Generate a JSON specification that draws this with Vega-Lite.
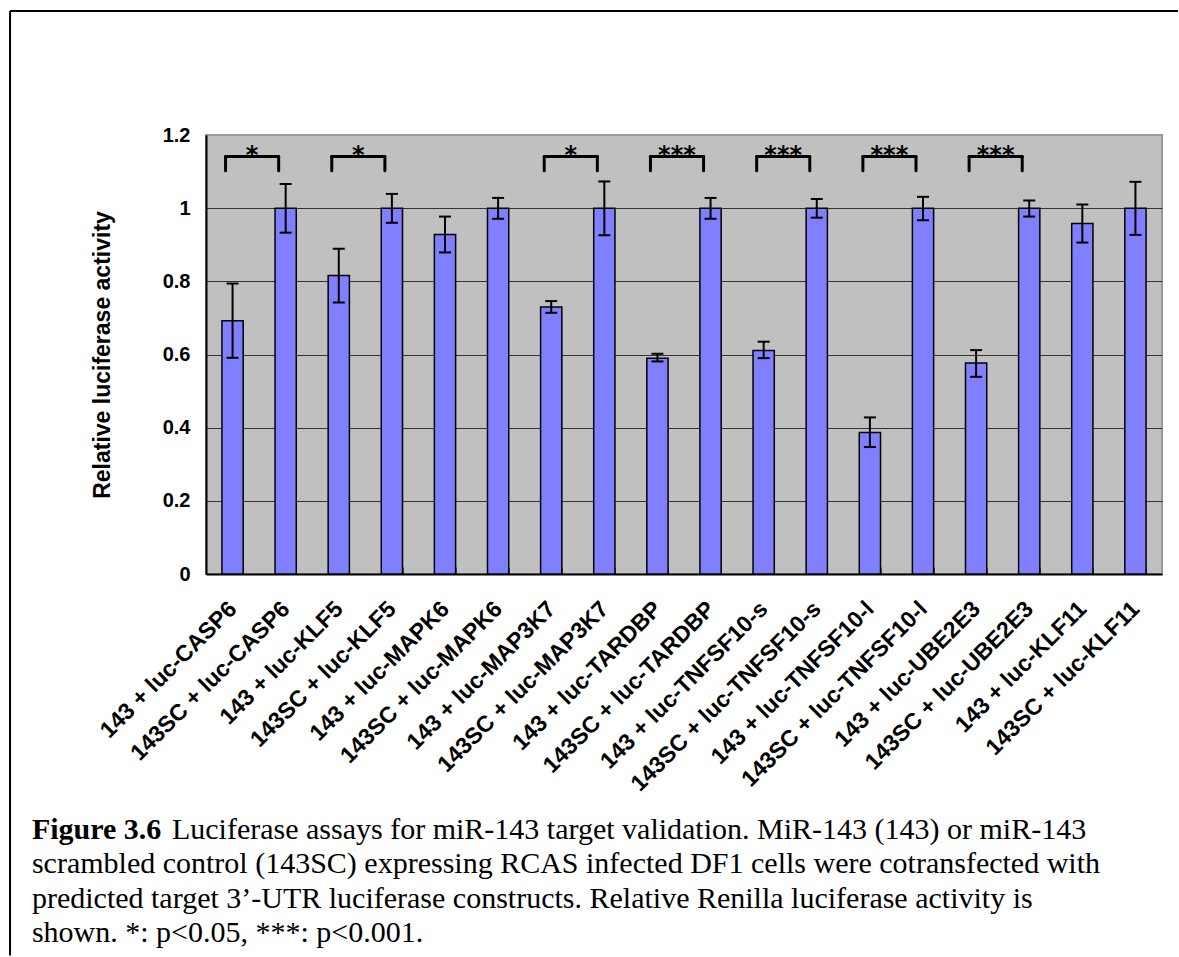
{
  "$schema": "https://vega.github.io/schema/vega-lite/v6.json",
  "width": 956,
  "height": 439,
  "autosize": {"type": "pad"},
  "padding": {"left": 9, "top": 9, "right": 0, "bottom": 0},
  "background": "white",
  "config": {
    "view": {"fill": "#C0C0C0", "stroke": "#999999", "strokeWidth": 2}
  },
  "datasets": {
    "bars": [
      {"cat": "143 + luc-CASP6", "value": 0.692, "lo": 0.591, "hi": 0.794},
      {"cat": "143SC + luc-CASP6", "value": 1.0, "lo": 0.933, "hi": 1.066},
      {"cat": "143 + luc-KLF5", "value": 0.816, "lo": 0.742, "hi": 0.889},
      {"cat": "143SC + luc-KLF5", "value": 1.0, "lo": 0.96, "hi": 1.039},
      {"cat": "143 + luc-MAPK6", "value": 0.928, "lo": 0.879, "hi": 0.977},
      {"cat": "143SC + luc-MAPK6", "value": 1.0, "lo": 0.971, "hi": 1.028},
      {"cat": "143 + luc-MAP3K7", "value": 0.73, "lo": 0.714, "hi": 0.746},
      {"cat": "143SC + luc-MAP3K7", "value": 1.0, "lo": 0.926, "hi": 1.073},
      {"cat": "143 + luc-TARDBP", "value": 0.59, "lo": 0.581, "hi": 0.602},
      {"cat": "143SC + luc-TARDBP", "value": 1.0, "lo": 0.971, "hi": 1.028},
      {"cat": "143 + luc-TNFSF10-s", "value": 0.611, "lo": 0.59, "hi": 0.635},
      {"cat": "143SC + luc-TNFSF10-s", "value": 1.0, "lo": 0.974, "hi": 1.025},
      {"cat": "143 + luc-TNFSF10-l", "value": 0.387, "lo": 0.347, "hi": 0.428},
      {"cat": "143SC + luc-TNFSF10-l", "value": 1.0, "lo": 0.967, "hi": 1.031},
      {"cat": "143 + luc-UBE2E3", "value": 0.577, "lo": 0.539, "hi": 0.612},
      {"cat": "143SC + luc-UBE2E3", "value": 1.0, "lo": 0.977, "hi": 1.021},
      {"cat": "143 + luc-KLF11", "value": 0.958, "lo": 0.906, "hi": 1.01},
      {"cat": "143SC + luc-KLF11", "value": 1.0, "lo": 0.927, "hi": 1.072}
    ],
    "sig": [
      {"a": "143 + luc-CASP6", "b": "143SC + luc-CASP6", "sig": "*"},
      {"a": "143 + luc-KLF5", "b": "143SC + luc-KLF5", "sig": "*"},
      {"a": "143 + luc-MAP3K7", "b": "143SC + luc-MAP3K7", "sig": "*"},
      {"a": "143 + luc-TARDBP", "b": "143SC + luc-TARDBP", "sig": "***"},
      {"a": "143 + luc-TNFSF10-s", "b": "143SC + luc-TNFSF10-s", "sig": "***"},
      {"a": "143 + luc-TNFSF10-l", "b": "143SC + luc-TNFSF10-l", "sig": "***"},
      {"a": "143 + luc-UBE2E3", "b": "143SC + luc-UBE2E3", "sig": "***"}
    ],
    "captionBold": [{"text": "Figure 3.6"}],
    "captionLead": [{"text": "Luciferase assays for miR-143 target validation. MiR-143 (143) or miR-143"}],
    "captionBody": [{"text": ["scrambled control (143SC) expressing RCAS infected DF1 cells were cotransfected with", "predicted target 3’-UTR luciferase constructs. Relative Renilla luciferase activity is", "shown. *: p<0.05, ***: p<0.001."]}]
  },
  "layer": [
    {
      "data": {"name": "bars"},
      "encoding": {
        "x": {
          "field": "cat",
          "type": "nominal",
          "sort": null,
          "scale": {
            "domain": ["143 + luc-CASP6", "143SC + luc-CASP6", "143 + luc-KLF5", "143SC + luc-KLF5", "143 + luc-MAPK6", "143SC + luc-MAPK6", "143 + luc-MAP3K7", "143SC + luc-MAP3K7", "143 + luc-TARDBP", "143SC + luc-TARDBP", "143 + luc-TNFSF10-s", "143SC + luc-TNFSF10-s", "143 + luc-TNFSF10-l", "143SC + luc-TNFSF10-l", "143 + luc-UBE2E3", "143SC + luc-UBE2E3", "143 + luc-KLF11", "143SC + luc-KLF11"],
            "paddingInner": 0.6,
            "paddingOuter": 0.3
          },
          "axis": {
            "title": null,
            "orient": "bottom",
            "labelAngle": -45,
            "labelAlign": "right",
            "labelBaseline": "middle",
            "labelFont": "Liberation Sans",
            "labelFontWeight": "bold",
            "labelFontSize": 23,
            "labelColor": "black",
            "labelPadding": 38,
            "labelLimit": 400,
            "labelOverlap": false,
            "domainColor": "black",
            "domainWidth": 2,
            "ticks": true,
            "tickBand": "extent",
            "tickSize": -7,
            "tickColor": "#555555",
            "tickWidth": 1,
            "grid": false
          }
        }
      },
      "layer": [
        {
          "mark": {"type": "bar", "fill": "#8080FF", "stroke": "black", "strokeWidth": 1.5},
          "encoding": {
            "y": {
              "field": "value",
              "type": "quantitative",
              "scale": {"domain": [0, 1.2], "nice": false},
              "axis": {
                "orient": "left",
                "title": "Relative luciferase activity",
                "titleFont": "Liberation Sans",
                "titleFontWeight": "bold",
                "titleFontSize": 23,
                "titleColor": "black",
                "titlePadding": 48,
                "values": [0, 0.2, 0.4, 0.6, 0.8, 1, 1.2],
                "format": "~g",
                "labelFont": "Liberation Sans",
                "labelFontWeight": "bold",
                "labelFontSize": 20,
                "labelColor": "black",
                "labelPadding": 16,
                "ticks": false,
                "domainColor": "black",
                "domainWidth": 2,
                "grid": true,
                "gridColor": {"condition": {"test": "datum.value >= 1.19", "value": "#999999"}, "value": "#333333"},
                "gridWidth": 1
              }
            }
          }
        },
        {
          "mark": {"type": "rule", "color": "black", "strokeWidth": 2},
          "encoding": {
            "y": {"field": "lo", "type": "quantitative"},
            "y2": {"field": "hi"}
          }
        },
        {
          "mark": {"type": "tick", "color": "black", "size": 12, "thickness": 2, "opacity": 1},
          "encoding": {"y": {"field": "lo", "type": "quantitative"}}
        },
        {
          "mark": {"type": "tick", "color": "black", "size": 12, "thickness": 2, "opacity": 1},
          "encoding": {"y": {"field": "hi", "type": "quantitative"}}
        }
      ]
    },
    {
      "data": {"name": "sig"},
      "layer": [
        {
          "mark": {"type": "rule", "color": "black", "strokeWidth": 3, "strokeCap": "round", "xOffset": -7, "x2Offset": -7},
          "encoding": {
            "x": {"field": "a", "type": "nominal"},
            "x2": {"field": "b"},
            "y": {"datum": 1.141, "type": "quantitative"}
          }
        },
        {
          "mark": {"type": "rule", "color": "black", "strokeWidth": 3, "strokeCap": "round", "xOffset": -7},
          "encoding": {
            "x": {"field": "a", "type": "nominal"},
            "y": {"datum": 1.102, "type": "quantitative"},
            "y2": {"datum": 1.141}
          }
        },
        {
          "mark": {"type": "rule", "color": "black", "strokeWidth": 3, "strokeCap": "round", "xOffset": -7},
          "encoding": {
            "x": {"field": "b", "type": "nominal"},
            "y": {"datum": 1.102, "type": "quantitative"},
            "y2": {"datum": 1.141}
          }
        },
        {
          "mark": {"type": "text", "font": "DejaVu Sans", "fontWeight": "bold", "fontSize": 24, "color": "black", "align": "center", "baseline": "alphabetic", "dx": 19.5},
          "encoding": {
            "x": {"field": "a", "type": "nominal"},
            "y": {"datum": 1.124, "type": "quantitative"},
            "text": {"field": "sig"}
          }
        }
      ]
    },
    {
      "data": {"values": [{}]},
      "mark": {"type": "rule", "color": "black", "strokeWidth": 2, "xOffset": -211.9, "x2Offset": 42.5},
      "encoding": {
        "x": {"datum": "143 + luc-CASP6", "type": "nominal", "bandPosition": 0},
        "x2": {"datum": "143SC + luc-KLF11"},
        "y": {"datum": 1.539, "type": "quantitative"}
      }
    },
    {
      "data": {"values": [{}]},
      "mark": {"type": "rule", "color": "black", "strokeWidth": 2, "xOffset": -211.9},
      "encoding": {
        "x": {"datum": "143 + luc-CASP6", "type": "nominal", "bandPosition": 0},
        "y": {"datum": 1.539, "type": "quantitative"},
        "y2": {"datum": -1.043}
      }
    },
    {
      "data": {"name": "captionBold"},
      "mark": {"type": "text", "font": "Liberation Serif", "fontWeight": "bold", "fontSize": 30, "color": "black", "align": "left", "baseline": "alphabetic", "dx": -190},
      "encoding": {
        "x": {"datum": "143 + luc-CASP6", "type": "nominal", "bandPosition": 0},
        "y": {"datum": -0.7236, "type": "quantitative"},
        "text": {"field": "text"}
      }
    },
    {
      "data": {"name": "captionLead"},
      "mark": {"type": "text", "font": "Liberation Serif", "fontSize": 30, "color": "black", "align": "left", "baseline": "alphabetic", "dx": -50},
      "encoding": {
        "x": {"datum": "143 + luc-CASP6", "type": "nominal", "bandPosition": 0},
        "y": {"datum": -0.7236, "type": "quantitative"},
        "text": {"field": "text"}
      }
    },
    {
      "data": {"name": "captionBody"},
      "mark": {"type": "text", "font": "Liberation Serif", "fontSize": 30, "lineHeight": 34.5, "color": "black", "align": "left", "baseline": "alphabetic", "dx": -190},
      "encoding": {
        "x": {"datum": "143 + luc-CASP6", "type": "nominal", "bandPosition": 0},
        "y": {"datum": -0.8179, "type": "quantitative"},
        "text": {"field": "text"}
      }
    }
  ]
}
